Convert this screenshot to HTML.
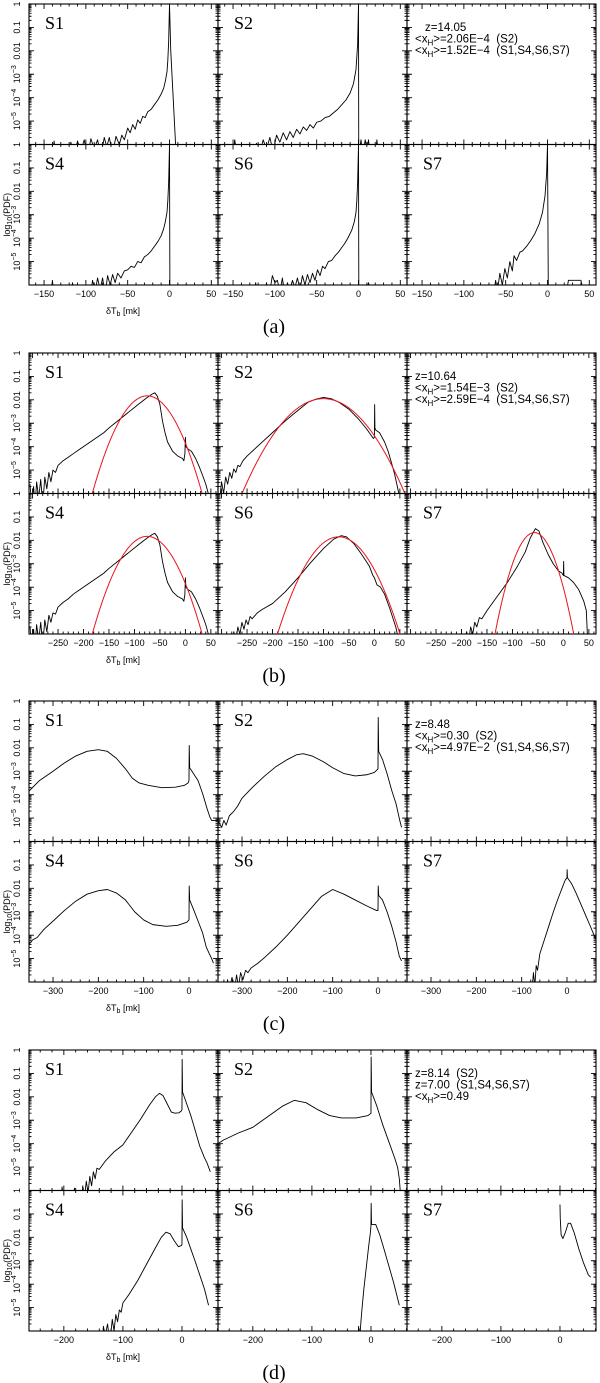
<!DOCTYPE html>
<html><head><meta charset="utf-8">
<style>
html,body{margin:0;padding:0;background:#fff;}
svg{display:block;}
text{font-family:"Liberation Serif","DejaVu Serif",serif;fill:#000;}
.tk{font-family:"Liberation Sans",sans-serif;font-size:9px;}
.info{font-family:"Liberation Sans",sans-serif;font-size:11.5px;white-space:pre;}
</style></head>
<body>
<svg id="fig" width="600" height="1383" viewBox="0 0 600 1383" xmlns="http://www.w3.org/2000/svg"></svg>
<script>
// ---- data: [deltaTb (mK), log10(PDF)] ----
const aS1=[[-140,-6.5],[-138,-5.85],[-136,-6.5],[-120,-6.5],[-118,-5.9],[-114,-6.5],[-110,-5.85],[-106,-6.3],[-102,-5.8],[-98,-6.5],[-94,-5.75],[-90,-6.2],[-86,-5.8],[-82,-6.5],[-78,-5.7],[-75,-6.1],[-72,-5.7],[-68,-6.4],[-64,-5.65],[-60,-6.0],[-57,-5.6],[-54,-5.8],[-50,-5.3],[-47,-5.5],[-44,-5.15],[-41,-5.35],[-38,-4.95],[-35,-5.1],[-32,-4.8],[-29,-4.85],[-26,-4.6],[-22,-4.5],[-18,-4.3],[-14,-4.1],[-10,-3.85],[-7,-3.6],[-5,-3.3],[-3,-2.9],[-2,-2.4],[-1,-1.6],[0,0],[1.5,-2],[8,-6.5]];
const aS2=[[-150,-6.5],[-148,-5.8],[-145,-6.5],[-140,-6.1],[-138,-6.5],[-125,-6.5],[-122,-5.95],[-118,-6.4],[-114,-5.8],[-110,-6.2],[-106,-5.7],[-102,-6.3],[-98,-5.6],[-94,-5.9],[-90,-5.5],[-86,-5.8],[-82,-5.45],[-78,-5.7],[-74,-5.35],[-70,-5.55],[-66,-5.25],[-62,-5.4],[-58,-5.15],[-54,-5.3],[-50,-5.05],[-45,-5.0],[-40,-4.85],[-35,-4.8],[-30,-4.65],[-25,-4.5],[-20,-4.3],[-15,-4.1],[-10,-3.8],[-6,-3.4],[-3,-2.8],[-1,-1.7],[0,0],[0.3,-6.5],[3,-5.8],[5,-6.5],[8,-5.8],[10,-6.2],[12,-5.8],[14,-6.5],[20,-6.5],[22,-5.8],[24,-6.5]];
const aS4=[[-142,-6.5],[-140,-5.8],[-138,-6.5],[-118,-6.5],[-116,-5.9],[-113,-6.5],[-95,-6.5],[-92,-5.8],[-89,-6.3],[-86,-5.7],[-83,-6.2],[-80,-5.7],[-77,-6.4],[-74,-5.6],[-71,-6.0],[-68,-5.55],[-65,-5.9],[-62,-5.5],[-58,-5.7],[-54,-5.4],[-50,-5.35],[-46,-5.2],[-42,-5.25],[-38,-5.0],[-34,-5.05],[-30,-4.8],[-26,-4.7],[-22,-4.55],[-18,-4.35],[-14,-4.15],[-10,-3.9],[-7,-3.6],[-5,-3.3],[-3,-2.9],[-2,-2.4],[-1,-1.6],[0,0],[0.5,-6.5]];
const aS6=[[-125,-6.5],[-123,-5.9],[-120,-6.5],[-112,-6.5],[-110,-5.9],[-107,-6.5],[-103,-5.6],[-100,-5.9],[-97,-5.8],[-94,-6.3],[-91,-5.7],[-88,-6.5],[-85,-5.9],[-82,-6.3],[-79,-5.8],[-76,-6.1],[-73,-5.7],[-70,-6.2],[-67,-5.6],[-64,-6.0],[-61,-5.55],[-58,-5.9],[-55,-5.5],[-52,-5.8],[-49,-5.35],[-46,-5.6],[-43,-5.2],[-40,-5.3],[-36,-5.0],[-32,-4.95],[-28,-4.75],[-24,-4.6],[-20,-4.4],[-16,-4.2],[-12,-3.95],[-8,-3.65],[-5,-3.3],[-3,-2.9],[-2,-2.4],[-1,-1.6],[0,0],[0.4,-6.5],[8,-6.5],[12,-5.9],[16,-6.5]];
const aS7=[[-65,-6.5],[-62,-5.8],[-60,-6.3],[-57,-5.5],[-54,-6.0],[-51,-5.3],[-48,-5.7],[-45,-5.0],[-42,-5.4],[-40,-4.75],[-37,-4.95],[-33,-4.6],[-30,-4.55],[-25,-4.35],[-20,-4.1],[-15,-3.8],[-10,-3.4],[-6,-2.9],[-3,-2.2],[-1,-1.2],[0,0],[1,-6.5],[22,-6.5],[25,-5.8],[40,-5.8],[44,-6.5]];

const bS1=[[-305,-5.6],[-302,-6.5],[-298,-5.7],[-295,-6.5],[-292,-5.5],[-288,-6.2],[-284,-5.4],[-280,-6.5],[-276,-5.3],[-272,-5.8],[-268,-5.1],[-264,-5.5],[-260,-5.0],[-255,-5.1],[-250,-4.8],[-240,-4.6],[-230,-4.45],[-220,-4.3],[-210,-4.15],[-200,-4.0],[-180,-3.7],[-160,-3.4],[-150,-3.2],[-130,-2.85],[-110,-2.5],[-90,-2.15],[-75,-1.9],[-65,-1.75],[-60,-1.7],[-55,-1.85],[-50,-2.2],[-45,-2.9],[-40,-3.4],[-35,-3.8],[-25,-4.2],[-15,-4.4],[-6,-4.5],[-3,-4.6],[-1,-4.3],[0,-3.6],[1,-4.0],[5,-4.1],[12,-4.2],[20,-4.5],[28,-4.9],[35,-5.3],[40,-5.6],[45,-6.0],[50,-6.5]];
const bS2=[[-305,-6.5],[-300,-5.5],[-296,-6.0],[-292,-5.3],[-288,-5.6],[-284,-5.1],[-280,-5.35],[-276,-4.95],[-272,-5.1],[-268,-4.8],[-264,-4.85],[-258,-4.6],[-250,-4.4],[-225,-3.9],[-200,-3.4],[-175,-2.9],[-150,-2.45],[-130,-2.1],[-115,-1.97],[-100,-1.9],[-85,-1.95],[-70,-2.1],[-50,-2.4],[-30,-2.85],[-15,-3.25],[-2,-3.65],[0,-3.6],[0.5,-2.2],[1,-3.2],[3,-3.3],[10,-3.4],[20,-3.8],[27,-4.2],[35,-4.8],[40,-5.2],[45,-5.7],[48,-6.0],[50,-6.5]];
const bS4=[[-305,-5.7],[-302,-6.5],[-298,-5.8],[-295,-6.5],[-292,-5.6],[-288,-6.3],[-284,-5.5],[-280,-6.5],[-276,-5.4],[-272,-5.9],[-268,-5.2],[-264,-5.5],[-260,-5.1],[-255,-5.15],[-250,-4.85],[-240,-4.65],[-230,-4.5],[-220,-4.3],[-210,-4.15],[-200,-4.0],[-180,-3.7],[-160,-3.4],[-150,-3.2],[-130,-2.85],[-110,-2.5],[-90,-2.15],[-75,-1.9],[-65,-1.75],[-60,-1.7],[-55,-1.85],[-50,-2.2],[-45,-2.9],[-40,-3.4],[-35,-3.8],[-25,-4.2],[-15,-4.4],[-6,-4.5],[-3,-4.6],[-1,-4.3],[0,-3.6],[1,-4.0],[5,-4.1],[12,-4.2],[20,-4.5],[28,-4.9],[35,-5.3],[40,-5.6],[45,-6.0],[50,-6.5]];
const bS6=[[-280,-6.5],[-276,-5.9],[-272,-6.3],[-268,-5.7],[-264,-6.0],[-260,-5.5],[-256,-5.8],[-252,-5.4],[-248,-5.6],[-244,-5.25],[-240,-5.35],[-230,-5.1],[-220,-4.95],[-200,-4.7],[-175,-4.2],[-150,-3.6],[-125,-2.95],[-100,-2.35],[-80,-1.95],[-65,-1.8],[-55,-1.85],[-40,-2.15],[-25,-2.6],[-10,-3.1],[-3,-3.5],[0,-3.6],[5,-3.9],[12,-4.0],[20,-4.3],[30,-4.9],[36,-5.3],[42,-5.7],[47,-6.2],[52,-6.5]];
const bS7=[[-195,-6.5],[-190,-5.9],[-186,-6.3],[-182,-5.7],[-178,-6.0],[-174,-5.5],[-170,-5.7],[-165,-5.3],[-160,-5.35],[-150,-5.0],[-130,-4.4],[-110,-3.8],[-90,-3.1],[-75,-2.5],[-65,-1.9],[-55,-1.5],[-48,-1.6],[-40,-2.1],[-30,-2.6],[-20,-3.0],[-10,-3.3],[-3,-3.4],[0,-3.5],[0.5,-2.9],[1,-3.5],[10,-3.6],[20,-3.8],[30,-4.1],[40,-4.6],[45,-5.0],[48,-6.5]];
// Gaussian fits (red) for panel (b): S1,S2,S4,S6,S7
const fitMean=[-75,-100,-75,-70,-57];
const fitSigma=[24.6,37,24.6,27.5,17.3];
const fitPeak=[-1.83,-1.95,-1.83,-1.85,-1.67];

const cS1=[[-353,-3.85],[-330,-3.4],[-300,-3.0],[-275,-2.65],[-250,-2.35],[-225,-2.15],[-200,-2.08],[-180,-2.15],[-160,-2.45],[-140,-2.9],[-125,-3.3],[-110,-3.5],[-90,-3.6],[-60,-3.7],[-30,-3.68],[-10,-3.6],[-2,-3.5],[0,-3.4],[0.5,-1.9],[1.5,-2.85],[10,-3.1],[20,-3.4],[30,-3.95],[40,-4.6],[46,-4.95],[50,-5.1],[57,-5.1],[64,-5.1]];
const cS2=[[-353,-5.1],[-345,-5.4],[-340,-5.1],[-335,-5.3],[-328,-4.9],[-320,-4.75],[-310,-4.5],[-300,-4.15],[-275,-3.65],[-250,-3.2],[-225,-2.8],[-200,-2.5],[-180,-2.3],[-165,-2.25],[-145,-2.35],[-120,-2.6],[-100,-2.85],[-75,-3.1],[-50,-3.2],[-25,-3.15],[-8,-3.05],[0,-2.9],[0.5,-0.7],[1.5,-2.15],[10,-2.5],[20,-3.1],[30,-3.8],[40,-4.4],[48,-5.1],[52,-5.4]];
const cS4=[[-353,-4.4],[-345,-4.2],[-335,-4.1],[-320,-3.75],[-300,-3.4],[-275,-2.95],[-250,-2.55],[-225,-2.25],[-200,-2.1],[-180,-2.05],[-160,-2.2],[-140,-2.5],[-120,-3.0],[-100,-3.35],[-80,-3.55],[-50,-3.62],[-25,-3.58],[-5,-3.45],[0,-3.35],[0.5,-1.9],[1.5,-2.5],[10,-2.9],[20,-3.4],[30,-3.9],[38,-4.5],[45,-4.8],[50,-5.0],[54,-5.2]];
const cS6=[[-353,-6.5],[-348,-6.0],[-344,-6.5],[-335,-6.5],[-332,-5.9],[-328,-6.3],[-322,-5.8],[-318,-6.5],[-312,-5.7],[-308,-6.2],[-303,-5.6],[-298,-5.9],[-292,-5.5],[-287,-5.6],[-280,-5.4],[-265,-5.2],[-250,-4.95],[-225,-4.5],[-200,-4.0],[-175,-3.45],[-150,-2.9],[-125,-2.35],[-100,-2.05],[-75,-2.25],[-50,-2.5],[-25,-2.75],[-3,-2.95],[0,-2.95],[0.5,-1.9],[1.5,-2.3],[10,-2.5],[20,-3.0],[30,-3.6],[40,-4.3],[47,-4.9],[52,-5.1]];
const cS7=[[-78,-6.5],[-74,-5.6],[-71,-6.2],[-68,-5.3],[-65,-5.5],[-60,-4.8],[-55,-4.5],[-50,-4.2],[-40,-3.6],[-30,-3.0],[-20,-2.45],[-10,-1.95],[-4,-1.65],[0,-1.55],[0.3,-1.2],[1,-1.55],[10,-1.8],[20,-2.2],[30,-2.65],[40,-3.1],[50,-3.55],[64,-4.2]];

const dS1=[[-205,-6.5],[-203,-5.85],[-200,-6.5],[-185,-6.5],[-182,-5.9],[-180,-6.5],[-170,-6.5],[-168,-5.8],[-165,-6.3],[-162,-5.6],[-159,-6.1],[-156,-5.4],[-153,-5.8],[-150,-5.2],[-147,-5.5],[-144,-5.05],[-140,-5.1],[-130,-4.75],[-115,-4.35],[-100,-4.05],[-85,-3.5],[-70,-2.95],[-55,-2.35],[-45,-2.0],[-38,-1.85],[-32,-1.95],[-25,-2.3],[-18,-2.65],[-12,-2.7],[-5,-2.68],[-1,-2.6],[0,-2.55],[0.3,-0.4],[1,-1.8],[8,-2.3],[15,-2.8],[22,-3.4],[30,-4.1],[38,-4.6],[42,-4.8],[45,-5.0],[48,-5.2]];
const dS2=[[-259,-4.0],[-250,-3.85],[-225,-3.55],[-200,-3.3],[-175,-2.85],[-150,-2.4],[-130,-2.15],[-110,-2.25],[-90,-2.55],[-70,-2.8],[-50,-2.9],[-25,-2.9],[-5,-2.8],[0,-2.7],[0.3,-0.3],[1,-1.8],[10,-2.4],[20,-3.2],[30,-3.9],[40,-4.6],[45,-5.0],[48,-5.5],[51,-6.5]];
const dS4=[[-135,-6.5],[-133,-5.8],[-130,-6.2],[-126,-5.7],[-122,-6.5],[-118,-5.5],[-115,-6.0],[-112,-5.3],[-109,-5.6],[-106,-5.1],[-103,-5.2],[-100,-4.8],[-90,-4.45],[-75,-3.85],[-60,-3.15],[-45,-2.45],[-35,-2.0],[-27,-1.78],[-20,-1.85],[-13,-2.15],[-6,-2.4],[-1,-2.35],[0,-2.3],[0.3,-0.4],[1,-1.6],[8,-2.0],[15,-2.5],[22,-3.0],[30,-3.6],[38,-4.2],[45,-4.9]];
const dS6=[[-22,-6.5],[-21,-5.8],[-19,-6.3],[-17,-5.6],[-15,-5.0],[-12,-4.2],[-8,-3.3],[-4,-2.4],[-1,-1.8],[0,-1.5],[0.3,-0.55],[1,-1.45],[8,-1.45],[15,-1.9],[22,-2.5],[30,-3.2],[38,-3.9],[44,-4.5],[48,-4.9]];
const dS7=[[0,-0.6],[0.5,-1.2],[2,-1.9],[5,-2.05],[9,-1.8],[14,-1.4],[18,-1.4],[24,-1.8],[32,-2.5],[40,-3.1],[48,-3.6],[52,-3.7]];

const tickLabelsA=[-150,-100,-50,0,50];
const tickLabelsB=[-250,-200,-150,-100,-50,0,50];
const tickLabelsC=[-300,-200,-100,0];
const tickLabelsD=[-200,-100,0];
const yTickLabels=["1","0.1","0.01","10|-3","10|-4","10|-5"];

// ---- layout ----
const NS="http://www.w3.org/2000/svg";
const svg=document.getElementById('fig');
const colX=[29,218,407], PW=189, PH=140.5;
const blocks=[
 {id:'a',top:4,xmin:-168,xmax:58,major:50,minor:10,labels:tickLabelsA,series:[aS1,aS2,null,aS4,aS6,aS7],
  info:[["z=14.05"],["<x","H",">=2.06E−4  (S2)"],["<x","H",">=1.52E−4  (S1,S4,S6,S7)"]]},
 {id:'b',top:353,xmin:-307,xmax:64,major:50,minor:10,labels:tickLabelsB,series:[bS1,bS2,null,bS4,bS6,bS7],fit:true,
  info:[["z=10.64"],["<x","H",">=1.54E−3  (S2)"],["<x","H",">=2.59E−4  (S1,S4,S6,S7)"]]},
 {id:'c',top:701,xmin:-353,xmax:64,major:100,minor:20,labels:tickLabelsC,series:[cS1,cS2,null,cS4,cS6,cS7],
  info:[["z=8.48"],["<x","H",">=0.30  (S2)"],["<x","H",">=4.97E−2  (S1,S4,S6,S7)"]]},
 {id:'d',top:1050,xmin:-259,xmax:61,major:100,minor:20,labels:tickLabelsD,series:[dS1,dS2,null,dS4,dS6,dS7],
  info:[["z=8.14  (S2)"],["z=7.00  (S1,S4,S6,S7)"],["<x","H",">=0.49"]]}
];
const names=['S1','S2',null,'S4','S6','S7'];
const fitIdx=[0,1,null,2,3,4];

function el(tag,attrs,parent){const e=document.createElementNS(NS,tag);for(const k in attrs)e.setAttribute(k,attrs[k]);(parent||svg).appendChild(e);return e;}

blocks.forEach((B,bi)=>{
  const g=el('g',{});
  
  
  for(let p=0;p<6;p++){
    const r=Math.floor(p/3), c=p%3;
    const x0=colX[c], y0=B.top+r*PH;
    const sx=v=>x0+(v-B.xmin)/(B.xmax-B.xmin)*PW;
    const sy=v=>y0+(-v)/6*PH;
    const pg=el('g',{},g);
    
    
    const cid='clip'+B.id+p;
    const cp=el('clipPath',{id:cid},pg);
    el('rect',{x:x0,y:y0,width:PW,height:PH},cp);
    let d='';
    for(let v=Math.ceil(B.xmin/B.minor)*B.minor; v<=B.xmax; v+=B.minor){
      const X=sx(v), L=(v%B.major===0)?5:2.5;
      d+=`M${X},${y0}v${L}M${X},${y0+PH}v${-L}`;
    }
    for(let k=0;k<6;k++){
      for(let m=1;m<=9;m++){
        const lv=-k-1+Math.log10(m); const Y=sy(lv); const L=(m===1)?5:2.5;
        if(m===1&&k===5) continue;
        d+=`M${x0},${Y}h${L}M${x0+PW},${Y}h${-L}`;
      }
    }
    const tk=el('path',{d:d,stroke:'#000','stroke-width':0.9,fill:'none'},pg);
    
    
    const fr=el('rect',{x:x0,y:y0,width:PW,height:PH,fill:'none',stroke:'#000','stroke-width':1.1},pg);
    
    
    if(r===1){
      B.labels.forEach(v=>{
        const t=el('text',{x:sx(v),y:y0+PH+12,'text-anchor':'middle',class:'tk'},pg);
        t.textContent=(v<0?'−':'')+Math.abs(v);
        
        
      });
    }
    if(c===0){
      yTickLabels.forEach((s,k)=>{
        const Y=sy(-k);
        const t=el('text',{x:20,y:Y,'text-anchor':'middle',class:'tk',transform:`rotate(-90 20 ${Y})`},pg);
        if(s.indexOf('|')>=0){
          const parts=s.split('|');
          t.appendChild(document.createTextNode(parts[0]));
          const sp=el('tspan',{dy:-4,'font-size':'7px'},t);
          sp.textContent=parts[1].replace('-','−');
        } else t.textContent=s;
        
        
      });
    }
    if(names[p]){
      const t=el('text',{x:x0+16,y:y0+25,'font-size':'18px'},pg);
      t.textContent=names[p];
      
      
      const data=B.series[p];
      const pts=data.map(q=>sx(q[0]).toFixed(2)+','+sy(q[1]).toFixed(2)).join(' ');
      const cg=el('g',{'clip-path':`url(#${cid})`},pg);
      const pl=el('polyline',{points:pts,fill:'none',stroke:'#000','stroke-width':0.9,'stroke-linejoin':'round'},cg);
      
      
      if(B.fit){
        const i=fitIdx[p]; const mu=fitMean[i], sg=fitSigma[i], pk=fitPeak[i];
        const fp=[];
        for(let v=B.xmin; v<=B.xmax; v+=1){
          const lv=pk-((v-mu)*(v-mu))/(2*sg*sg)/Math.LN10;
          fp.push(sx(v).toFixed(2)+','+sy(Math.max(lv,-7)).toFixed(2));
        }
        const rl=el('polyline',{points:fp.join(' '),fill:'none',stroke:'#e8141e','stroke-width':1},cg);
        
        
      }
    } else {
      B.info.forEach((line,li)=>{
        const t=el('text',{x:(line.length>1?415:(B.id==='a'?425:415)),y:y0+27+li*11.5,class:'info'},pg);
        if(line.length>1){
          t.appendChild(document.createTextNode(line[0]));
          const sub=el('tspan',{dy:3,'font-size':'8px'},t); sub.textContent=line[1];
          const rest=el('tspan',{dy:-3},t); rest.textContent=line[2];
        } else t.textContent=line[0];
        
        
      });
    }
  }
  const bottom=B.top+2*PH;
  const xl=el('text',{x:123,y:bottom+29,'text-anchor':'middle','font-size':'9px',class:'tk'},g);
  xl.appendChild(document.createTextNode('δT'));
  const s1=el('tspan',{dy:2,'font-size':'7px'},xl); s1.textContent='b';
  const s2=el('tspan',{dy:-2},xl); s2.textContent=' [mk]';
  
  
  const yc=B.top+PH*1.5;
  const yl=el('text',{x:10,y:yc,'text-anchor':'middle',class:'tk',transform:`rotate(-90 10 ${yc})`},g);
  yl.appendChild(document.createTextNode('log'));
  const y1=el('tspan',{dy:2,'font-size':'7px'},yl); y1.textContent='10';
  const y2=el('tspan',{dy:-2},yl); y2.textContent='(PDF)';
  
  
  const cap=el('text',{x:274,y:bottom+48,'text-anchor':'middle','font-size':'20px'},g);
  cap.textContent='('+B.id+')';
  
  
});
</script>
</body></html>
